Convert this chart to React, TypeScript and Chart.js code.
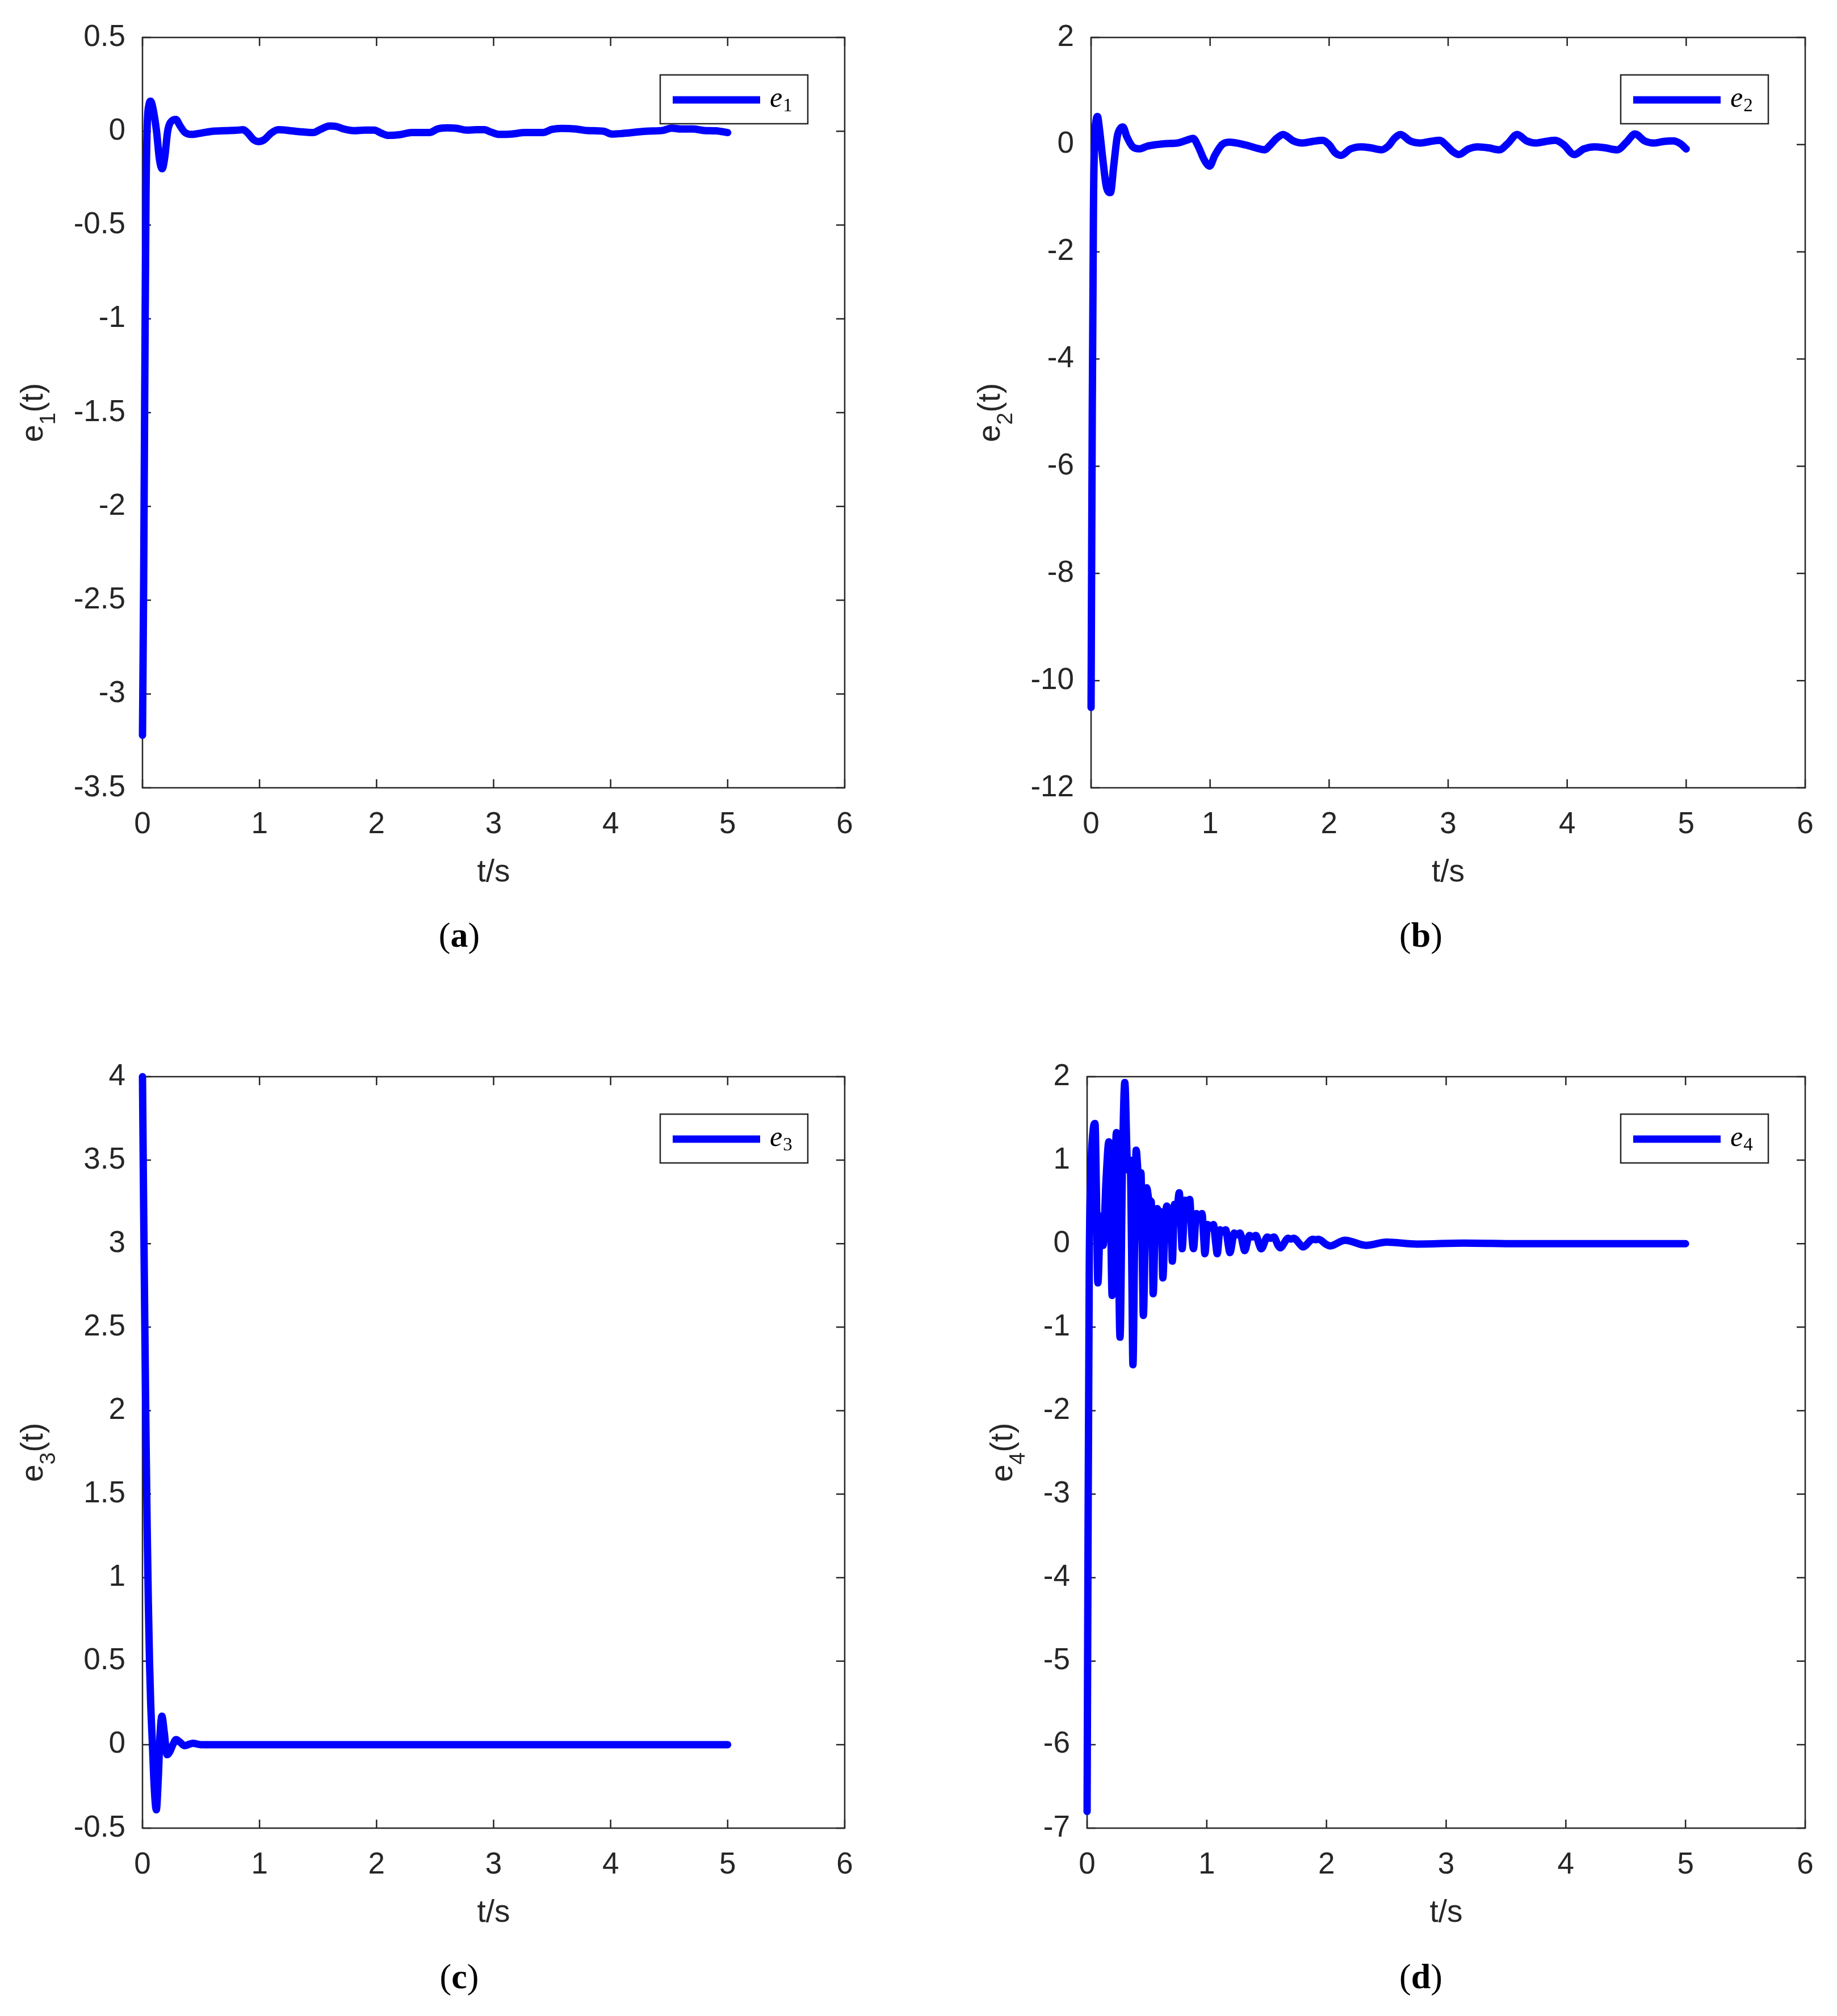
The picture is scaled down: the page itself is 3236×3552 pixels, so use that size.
import { useEffect, useRef } from 'react';
import { Chart, registerables } from 'chart.js';

Chart.register(...registerables);

// e1(t)
const timeA = [0, 0.01, 0.02, 0.03, 0.04, 0.055, 0.07, 0.09, 0.12, 0.145, 0.168, 0.19, 0.215, 0.25, 0.285, 0.32, 0.36, 0.42, 0.5, 0.6, 0.7, 0.8, 0.86, 0.9, 0.95, 0.99, 1.04, 1.1, 1.16, 1.25, 1.35, 1.46, 1.52, 1.6, 1.66, 1.72, 1.81, 1.9, 1.98, 2.04, 2.1, 2.2, 2.3, 2.4, 2.46, 2.52, 2.6, 2.68, 2.77, 2.85, 2.92, 2.98, 3.05, 3.15, 3.27, 3.42, 3.5, 3.58, 3.7, 3.8, 3.94, 4.01, 4.1, 4.3, 4.45, 4.52, 4.6, 4.7, 4.8, 4.9, 5.0];
const errA = [-3.22, -2.4, -1.3, -0.35, 0.02, 0.14, 0.16, 0.12, 0.0, -0.15, -0.2, -0.14, 0.0, 0.055, 0.063, 0.03, -0.005, -0.017, -0.01, 0.0, 0.003, 0.005, 0.008, -0.01, -0.045, -0.055, -0.045, -0.01, 0.008, 0.004, -0.003, -0.007, 0.01, 0.028, 0.025, 0.012, 0.003, 0.006, 0.006, -0.01, -0.022, -0.018, -0.007, -0.007, -0.006, 0.012, 0.018, 0.016, 0.006, 0.008, 0.008, -0.005, -0.017, -0.015, -0.007, -0.007, 0.01, 0.015, 0.012, 0.004, 0.0, -0.015, -0.012, 0.0, 0.005, 0.017, 0.012, 0.012, 0.004, 0.002, -0.007];

// e2(t)
const timeB = [0, 0.01, 0.02, 0.03, 0.042, 0.054, 0.07, 0.1, 0.13, 0.163, 0.19, 0.22, 0.245, 0.268, 0.3, 0.35, 0.407, 0.47, 0.546, 0.63, 0.724, 0.8, 0.857, 0.9, 0.95, 0.996, 1.04, 1.1, 1.16, 1.3, 1.4, 1.458, 1.5, 1.56, 1.613, 1.7, 1.776, 1.86, 1.944, 2.0, 2.05, 2.1, 2.18, 2.27, 2.35, 2.44, 2.5, 2.55, 2.6, 2.68, 2.77, 2.85, 2.93, 2.98, 3.04, 3.09, 3.17, 3.25, 3.34, 3.43, 3.5, 3.58, 3.66, 3.74, 3.82, 3.9, 3.97, 4.06, 4.14, 4.23, 4.32, 4.42, 4.5, 4.57, 4.65, 4.73, 4.81, 4.89, 4.95, 5.0];
const errB = [-10.5, -5.0, -1.2, 0.1, 0.45, 0.525, 0.3, -0.3, -0.8, -0.895, -0.4, 0.15, 0.3, 0.33, 0.15, -0.04, -0.078, -0.03, 0.0, 0.02, 0.03, 0.08, 0.117, -0.03, -0.28, -0.4, -0.2, 0.0, 0.046, -0.007, -0.07, -0.096, -0.02, 0.12, 0.19, 0.07, 0.03, 0.06, 0.08, 0.0, -0.15, -0.2, -0.08, -0.04, -0.06, -0.096, -0.02, 0.12, 0.19, 0.07, 0.03, 0.06, 0.08, 0.0, -0.13, -0.185, -0.08, -0.04, -0.06, -0.096, 0.02, 0.19, 0.07, 0.03, 0.06, 0.08, 0.0, -0.185, -0.08, -0.04, -0.06, -0.096, 0.05, 0.2, 0.07, 0.03, 0.06, 0.07, 0.02, -0.08];

// e3(t)
const timeC = [0, 0.01, 0.02, 0.03, 0.04, 0.05, 0.06, 0.07, 0.085, 0.1, 0.118, 0.135, 0.15, 0.166, 0.185, 0.21, 0.235, 0.26, 0.287, 0.32, 0.36, 0.43, 0.5, 0.7, 1.0, 1.5, 2.0, 2.5, 3.0, 3.5, 4.0, 4.5, 5.0];
const errC = [4.0, 3.2, 2.5, 1.85, 1.3, 0.85, 0.5, 0.25, 0.0, -0.25, -0.39, -0.2, 0.06, 0.17, 0.08, -0.06, -0.04, 0.0, 0.03, 0.015, -0.006, 0.008, 0.0, 0.0, 0.0, 0.0, 0.0, 0.0, 0.0, 0.0, 0.0, 0.0, 0.0];

// e4(t)
const timeD = [0, 0.008, 0.018, 0.03, 0.05, 0.066, 0.078, 0.09, 0.112, 0.134, 0.158, 0.182, 0.196, 0.209, 0.228, 0.245, 0.26, 0.275, 0.295, 0.315, 0.335, 0.348, 0.36, 0.372, 0.383, 0.397, 0.41, 0.43, 0.45, 0.46, 0.47, 0.485, 0.498, 0.518, 0.537, 0.545, 0.552, 0.568, 0.585, 0.605, 0.62, 0.633, 0.65, 0.665, 0.685, 0.7, 0.712, 0.73, 0.75, 0.77, 0.785, 0.794, 0.818, 0.838, 0.857, 0.875, 0.889, 0.913, 0.937, 0.96, 0.975, 0.984, 1.007, 1.03, 1.055, 1.075, 1.087, 1.11, 1.135, 1.158, 1.18, 1.193, 1.23, 1.253, 1.277, 1.305, 1.316, 1.356, 1.383, 1.41, 1.44, 1.455, 1.506, 1.533, 1.561, 1.595, 1.613, 1.68, 1.703, 1.727, 1.78, 1.804, 1.886, 1.91, 1.933, 2.0, 2.03, 2.155, 2.33, 2.503, 2.756, 3.15, 3.6, 4.2, 5.0];
const errD = [-6.8, -3.5, -0.3, 0.8, 1.35, 1.44, 0.6, -0.47, 0.33, -0.02, 0.75, 1.22, 0.4, -0.62, 0.55, 1.33, 0.15, -1.12, 0.9, 1.93, 1.0, 0.88, 1.0, -0.1, -1.45, 0.0, 1.12, 0.8, 0.85, 0.0, -0.86, 0.05, 0.67, 0.52, 0.5, 0.0, -0.6, 0.15, 0.42, 0.36, 0.38, -0.41, 0.2, 0.45, 0.38, 0.42, -0.21, 0.47, 0.42, 0.61, 0.2, -0.06, 0.52, 0.45, 0.53, 0.1, -0.06, 0.36, 0.3, 0.36, 0.05, -0.12, 0.23, 0.19, 0.23, 0.0, -0.12, 0.166, 0.14, 0.166, -0.02, -0.107, 0.127, 0.105, 0.127, -0.03, -0.084, 0.098, 0.08, 0.098, -0.02, -0.061, 0.08, 0.065, 0.08, -0.02, -0.05, 0.064, 0.055, 0.064, -0.01, -0.039, 0.052, 0.048, 0.052, -0.01, -0.027, 0.041, -0.02, 0.018, -0.005, 0.007, 0.0, 0.0, 0.0];

const xTicks = [0, 1, 2, 3, 4, 5, 6];
const yTicksA = [-3.5, -3, -2.5, -2, -1.5, -1, -0.5, 0, 0.5];
const yTicksB = [-12, -10, -8, -6, -4, -2, 0, 2];
const yTicksC = [-0.5, 0, 0.5, 1, 1.5, 2, 2.5, 3, 3.5, 4];
const yTicksD = [-7, -6, -5, -4, -3, -2, -1, 0, 1, 2];

const BLUE = '#0000ff';
const AXIS = '#262626';
const SANS = '"Liberation Sans", Arial, Helvetica, sans-serif';
const SERIF = '"Liberation Serif", "Times New Roman", serif';
const PANEL_W = 1618;
const PANEL_H = 1776;
const TICK_LEN = 15;
const LINE_W = 13;

// MATLAB-style box: frame, inward ticks on all sides, legend inside, y label with subscript
const matlabBox = {
  id: 'matlabBox',
  beforeDatasetsDraw(chart: any) {
    const { ctx, chartArea, scales } = chart;
    const { left, right, top, bottom } = chartArea;
    ctx.save();
    ctx.strokeStyle = AXIS;
    ctx.lineWidth = 2.5;
    ctx.beginPath();
    scales.x.ticks.forEach((t: any) => {
      const px = scales.x.getPixelForValue(t.value);
      ctx.moveTo(px, bottom);
      ctx.lineTo(px, bottom - TICK_LEN);
      ctx.moveTo(px, top);
      ctx.lineTo(px, top + TICK_LEN);
    });
    scales.y.ticks.forEach((t: any) => {
      const py = scales.y.getPixelForValue(t.value);
      ctx.moveTo(left, py);
      ctx.lineTo(left + TICK_LEN, py);
      ctx.moveTo(right, py);
      ctx.lineTo(right - TICK_LEN, py);
    });
    ctx.stroke();
    ctx.strokeRect(left, top, right - left, bottom - top);
    ctx.restore();
  },
  afterDatasetsDraw(chart: any, _args: any, opts: any) {
    const { ctx, chartArea } = chart;
    const { right, top, bottom } = chartArea;
    const base = opts.name.slice(0, 1);
    const sub = opts.name.slice(1);

    // legend
    const bw = 260;
    const bh = 86;
    const bx = right - 65 - bw;
    const by = top + 66;
    ctx.save();
    ctx.fillStyle = '#ffffff';
    ctx.fillRect(bx, by, bw, bh);
    ctx.strokeStyle = AXIS;
    ctx.lineWidth = 2.5;
    ctx.strokeRect(bx, by, bw, bh);
    ctx.strokeStyle = BLUE;
    ctx.lineWidth = LINE_W;
    ctx.lineCap = 'butt';
    ctx.beginPath();
    ctx.moveTo(bx + 22, by + 44);
    ctx.lineTo(bx + 176, by + 44);
    ctx.stroke();
    ctx.fillStyle = '#000000';
    ctx.textBaseline = 'alphabetic';
    ctx.textAlign = 'left';
    ctx.font = `italic 50px ${SERIF}`;
    ctx.fillText(base, bx + 193, by + 56);
    const we = ctx.measureText(base).width;
    ctx.font = `33px ${SERIF}`;
    ctx.fillText(sub, bx + 194 + we, by + 64);
    ctx.restore();

    // y axis label
    const big = `55px ${SANS}`;
    const small = `39px ${SANS}`;
    ctx.save();
    ctx.translate(opts.titleX, (top + bottom) / 2);
    ctx.rotate(-Math.PI / 2);
    ctx.fillStyle = AXIS;
    ctx.textBaseline = 'alphabetic';
    ctx.textAlign = 'left';
    ctx.font = big;
    const wE = ctx.measureText(base).width;
    const wR = ctx.measureText('(t)').width;
    ctx.font = small;
    const wS = ctx.measureText(sub).width;
    const x0 = -(wE + wS + wR) / 2;
    ctx.font = big;
    ctx.fillText(base, x0, 0);
    ctx.font = small;
    ctx.fillText(sub, x0 + wE, 22);
    ctx.font = big;
    ctx.fillText('(t)', x0 + wE + wS, 0);
    ctx.restore();
  },
};

interface Area {
  l: number;
  r: number;
  t: number;
  b: number;
}

interface PanelProps {
  name: string;
  time: number[];
  values: number[];
  yTicks: number[];
  left: number;
  top: number;
  area: Area;
  titleX: number;
}

const Panel = ({ name, time, values, yTicks, left, top, area, titleX }: PanelProps) => {
  const canvasRef = useRef<HTMLCanvasElement>(null);

  useEffect(() => {
    if (!canvasRef.current) return;
    const chart = new Chart(canvasRef.current, {
      type: 'line',
      data: {
        datasets: [
          {
            label: name,
            data: time.map((t, i) => ({ x: t, y: values[i] })),
            borderColor: BLUE,
            backgroundColor: BLUE,
            borderWidth: LINE_W,
            pointRadius: 0,
            cubicInterpolationMode: 'monotone',
            borderJoinStyle: 'round',
            borderCapStyle: 'round',
            clip: false,
          } as any,
        ],
      },
      options: {
        responsive: false,
        animation: false,
        events: [],
        layout: { padding: { left: 0, top: area.t, right: PANEL_W - area.r, bottom: 0 } },
        plugins: {
          legend: { display: false },
          tooltip: { enabled: false },
          matlabBox: { name, titleX },
        } as any,
        scales: {
          x: {
            type: 'linear',
            min: xTicks[0],
            max: xTicks[xTicks.length - 1],
            afterBuildTicks: (s: any) => {
              s.ticks = xTicks.map((v) => ({ value: v }));
            },
            afterFit: (s: any) => {
              s.height = PANEL_H - area.b;
            },
            grid: { display: false, drawTicks: false },
            border: { display: false },
            ticks: {
              padding: 34,
              color: AXIS,
              maxRotation: 0,
              autoSkip: false,
              font: { family: SANS, size: 53 },
              callback: (v: any) => String(v),
            },
            title: {
              display: true,
              text: 't/s',
              color: AXIS,
              font: { family: SANS, size: 55 },
              padding: { top: 0, bottom: PANEL_H - area.b - 150 - 33 },
            },
          },
          y: {
            type: 'linear',
            min: yTicks[0],
            max: yTicks[yTicks.length - 1],
            afterBuildTicks: (s: any) => {
              s.ticks = yTicks.map((v) => ({ value: v }));
            },
            afterFit: (s: any) => {
              s.width = area.l;
            },
            grid: { display: false, drawTicks: false },
            border: { display: false },
            ticks: {
              padding: 30,
              color: AXIS,
              autoSkip: false,
              font: { family: SANS, size: 53 },
              callback: (v: any) => String(v),
            },
          },
        },
      },
      plugins: [matlabBox],
    });
    return () => chart.destroy();
  }, [name, time, values, yTicks, area, titleX]);

  return (
    <div style={{ position: 'absolute', left, top, width: PANEL_W, height: PANEL_H }}>
      <canvas ref={canvasRef} width={PANEL_W} height={PANEL_H} style={{ width: PANEL_W, height: PANEL_H }} />
    </div>
  );
};

const Caption = ({ letter, x, y }: { letter: string; x: number; y: number }) => (
  <div
    style={{
      position: 'absolute',
      left: x - 100,
      top: y - 40,
      width: 200,
      height: 80,
      lineHeight: '80px',
      textAlign: 'center',
      fontFamily: SERIF,
      fontSize: 62,
      color: '#000',
    }}
  >
    (<b>{letter}</b>)
  </div>
);

const areaA = { l: 251, r: 1488, t: 66, b: 1388 };
const areaB = { l: 304, r: 1562, t: 66, b: 1388 };
const areaC = { l: 251, r: 1488, t: 121, b: 1445 };
const areaD = { l: 297, r: 1562, t: 121, b: 1445 };

export default function App() {
  return (
    <div style={{ position: 'absolute', left: 0, top: 0, width: 3236, height: 3552, background: '#fff', overflow: 'hidden' }}>
      <Panel name="e1" time={timeA} values={errA} yTicks={yTicksA} left={0} top={0} area={areaA} titleX={75} />
      <Panel name="e2" time={timeB} values={errB} yTicks={yTicksB} left={PANEL_W} top={0} area={areaB} titleX={143} />
      <Panel name="e3" time={timeC} values={errC} yTicks={yTicksC} left={0} top={PANEL_H} area={areaC} titleX={75} />
      <Panel name="e4" time={timeD} values={errD} yTicks={yTicksD} left={PANEL_W} top={PANEL_H} area={areaD} titleX={165} />
      <Caption letter="a" x={809} y={1647} />
      <Caption letter="b" x={2503} y={1647} />
      <Caption letter="c" x={809} y={3482} />
      <Caption letter="d" x={2503} y={3482} />
    </div>
  );
}
